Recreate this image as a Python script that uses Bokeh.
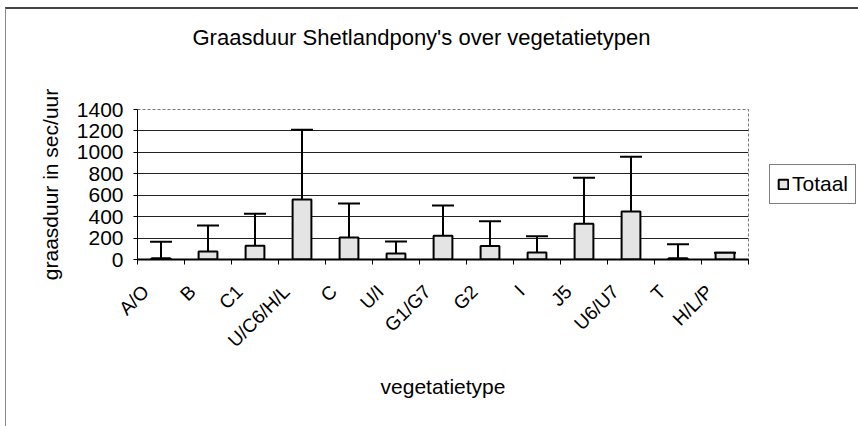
from math import pi
from bokeh.plotting import figure
from bokeh.models import (ColumnDataSource, Whisker, TeeHead, FixedTicker, Range1d,
                          Legend, LegendItem, Title)
from bokeh.embed import file_html
from bokeh.resources import INLINE

categories = ["A/O", "B", "C1", "U/C6/H/L", "C", "U/I", "G1/G7", "G2", "I",
              "J5", "U6/U7", "T", "H/L/P"]
totaal = [12, 75, 128, 560, 205, 55, 222, 125, 65, 333, 448, 12, 62]
totaal_upper = [165, 317, 428, 1210, 522, 168, 505, 357, 216, 762, 960, 143, 62]
y_ticks = [0, 200, 400, 600, 800, 1000, 1200, 1400]

FONT = "Liberation Sans"

pos = [i + 0.5 for i in range(len(categories))]
label_pos = [x - 0.33 for x in pos]
bounds = list(range(len(categories) + 1))
src = ColumnDataSource(dict(x=pos, top=totaal, upper=totaal_upper, cat=categories))

# the element is shifted by margin (7 top, 5 left) + border (2 top, 1 left)
p = figure(frame_width=611, frame_height=150, output_backend="svg", toolbar_location=None,
           x_range=Range1d(0, len(categories)), y_range=Range1d(0, 1400),
           min_border_left=131, min_border_right=110, min_border_top=100,
           min_border_bottom=177)

p.title.text = "Graasduur Shetlandpony's over vegetatietypen"
p.title.text_font = FONT
p.title.text_font_size = "22px"
p.title.text_font_style = "normal"
p.title.text_color = "black"
p.title.align = "left"
p.title.offset = 55
# spacer between title and frame
p.add_layout(Title(text=" ", text_font_size="39px"), "above")

bars = p.vbar(x="x", top="top", width=0.4, source=src, fill_color="#e4e4e4",
              line_color="black", line_width=2)

p.add_layout(Whisker(base="x", lower="top", upper="upper", source=src,
                     line_color="black", line_width=2,
                     upper_head=TeeHead(size=22, line_width=2, line_color="black"),
                     lower_head=None))

# y axis
p.yaxis.ticker = FixedTicker(ticks=y_ticks)
p.yaxis.axis_label = "graasduur in sec/uur"
p.yaxis.axis_label_text_font = FONT
p.yaxis.axis_label_text_font_size = "21px"
p.yaxis.axis_label_text_font_style = "normal"
p.yaxis.axis_label_text_color = "black"
p.yaxis.axis_label_standoff = 12
p.yaxis.major_label_text_font = FONT
p.yaxis.major_label_text_font_size = "21px"
p.yaxis.major_label_text_color = "black"
p.yaxis.major_tick_out = 4
p.yaxis.major_tick_in = 0
p.yaxis.minor_tick_out = 0
p.yaxis.minor_tick_in = 0
p.yaxis.axis_line_color = "black"
p.yaxis.major_label_standoff = 10

# x axis: labels under categories, tick marks between categories
label_map = {x: c for x, c in zip(label_pos, categories)}
p.xaxis.ticker = FixedTicker(ticks=label_pos, minor_ticks=bounds)
p.xaxis.major_label_overrides = label_map
p.xaxis.major_label_orientation = pi / 4
p.xaxis.major_label_text_font = FONT
p.xaxis.major_label_text_font_size = "19px"
p.xaxis.major_label_text_color = "black"
p.xaxis.major_label_standoff = 24
p.xaxis.major_tick_out = 0
p.xaxis.major_tick_in = 0
p.xaxis.minor_tick_out = 5
p.xaxis.minor_tick_in = 0
p.xaxis.axis_line_color = "black"
p.xaxis.axis_line_width = 2
p.xaxis.axis_label = "vegetatietype"
p.xaxis.axis_label_text_font = FONT
p.xaxis.axis_label_text_font_size = "21px"
p.xaxis.axis_label_text_font_style = "normal"
p.xaxis.axis_label_text_color = "black"
p.xaxis.axis_label_standoff = 13

p.xgrid.visible = False
p.ygrid.ticker = FixedTicker(ticks=y_ticks)
p.ygrid.grid_line_color = "#222222"
p.ygrid.grid_line_width = 1

p.outline_line_color = "#777777"
p.outline_line_dash = "3 2"
p.background_fill_color = "white"
p.border_fill_color = "white"

legend = Legend(items=[LegendItem(label="Totaal", renderers=[bars])],
                location="left", border_line_color="black", border_line_width=1,
                label_text_font=FONT, label_text_font_size="21px",
                label_text_color="black",
                glyph_width=12, glyph_height=12, padding=7, spacing=0,
                label_standoff=3, margin=21, background_fill_alpha=1)
p.add_layout(legend, "right")

# chart-area border of the original (top and left edges)
p.styles = {"margin-top": "7px", "margin-left": "5px",
            "border-top": "2px solid #444", "border-left": "1px solid #888"}

open("out.html", "w").write(file_html(p, INLINE))
